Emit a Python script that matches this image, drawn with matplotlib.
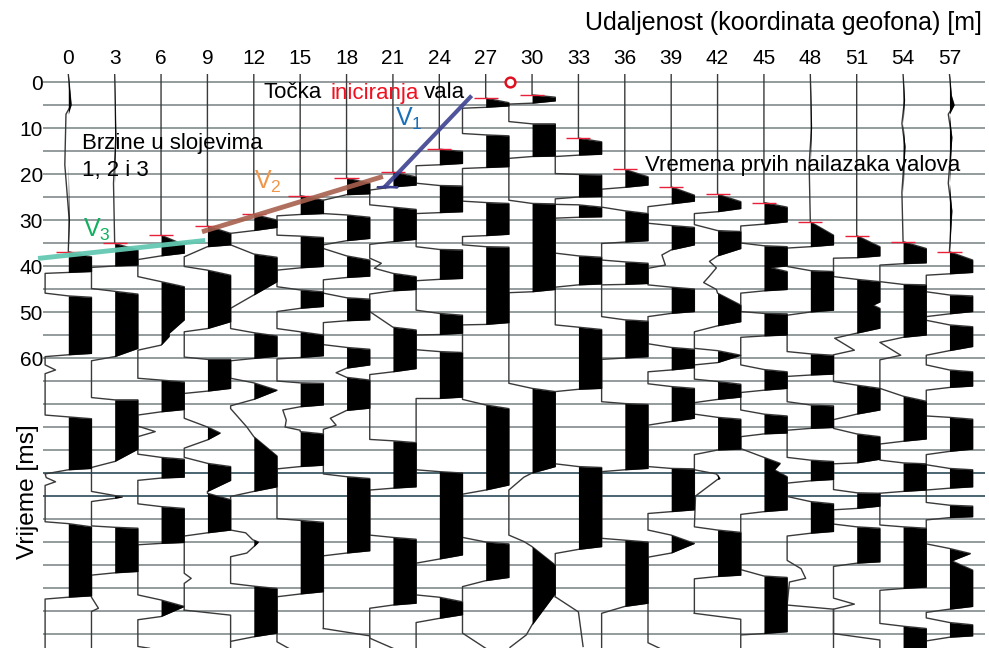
# -*- coding: utf-8 -*-
import numpy as np
import matplotlib
matplotlib.use('Agg')
import matplotlib.pyplot as plt

plt.rcParams['font.family'] = ['Liberation Sans', 'DejaVu Sans']
plt.rcParams['mathtext.fontset'] = 'custom'
plt.rcParams['mathtext.rm'] = 'Liberation Sans'

# geophone coordinates [m] and first arrival picks [ms]
geophones = list(range(0, 60, 3))
picks = [36.9, 35.1, 33.3, 31.3, 28.8, 24.7, 20.9, 19.6, 14.6, 3.5, 2.8, 12.2, 19.0, 22.8, 24.4, 26.2, 30.4, 33.4, 34.7, 36.9]
minor_grid = list(range(0, 125, 5))
dark_grid = [85, 90]
y_labels = [0, 10, 20, 30, 40, 50, 60]

# traces as (time ms, amplitude), amplitude 1 = clipped to the right, -1 = clipped to the left
trace_00 = [(5, .12), (7, -.1), (18, -.15), (30, .04), (36.9, 0), (38, 1), (41.2, 1), (41.4, 0), (41.6, -1), (45.9, -1), (46.5, 0), (46.8, 1), (59, 1), (59.3, 0), (59.7, -1), (61.5, -1), (62.6, -.55), (63.4, -1), (72.4, -1), (72.8, 0), (73.2, 1), (84, 1), (84.3, 0), (85.2, -1), (86, -.95), (86.9, -.55), (87.7, -1), (95.6, -1), (96, 0), (96.7, 1), (111.7, 1), (112, 0), (112.4, -1), (123.1, -1)]
trace_01 = [(12, .05), (22, -.05), (35.1, 0), (36.5, 1), (39.8, 1), (40, 0), (40.3, -1), (44.9, -1), (45.5, 0), (46.1, 1), (57.9, 1), (59.7, 0), (60.6, -1), (68.6, -1), (69.1, 0), (69.1, 1), (79.8, 1), (82.5, 0), (83.8, -1), (89, -1), (89.9, 0), (90.2, .33), (90.5, 0), (91.2, -1), (96.5, -1), (96.8, 0), (97, 1), (106.4, 1), (106.7, 0), (107.2, -1), (112, -1), (114.4, -.7), (115.1, -1), (123.1, -1)]
trace_02 = [(33.3, 0), (35.4, 1), (37.2, 1), (37.8, 0), (38.6, -1), (42.3, -1), (43.4, 0), (44.5, 1), (51.7, 1), (54.6, .35), (55.3, .35), (57.2, 0), (58.3, -1), (64.4, -1), (64.8, 0), (65.2, 1), (71.2, 1), (71.7, 0), (72.4, -1), (74.8, -1), (76, -.25), (77.1, -1), (80.9, -1), (81.6, 0), (82, 1), (85.9, 1), (86.1, 0), (86.6, -1), (91.7, -1), (92.3, 0), (92.7, 1), (100.1, 1), (100.3, 0), (100.6, -1), (111.5, -1), (112.6, 0), (114, 1), (116.2, 0), (116.9, -1), (122.7, -1), (123.1, -.5)]
trace_03 = [(31.3, 0), (32.9, 1), (35.4, 1), (35.8, 0), (38, -1), (40.1, -1), (40.9, 0), (42, 1), (52.1, 1), (53.6, 0), (54.3, -1), (59.8, -1), (60.3, 0), (60.3, 1), (66.6, 1), (67.2, 0), (67.7, -1), (73.1, -1), (75, 0), (76.3, .55), (77.8, 0), (79.6, -1), (81.6, -1), (82.9, 0), (83.6, 1), (86.6, 1), (89, 0), (89.4, 0), (90.8, 1), (97.4, 1), (98, 0), (98.7, -1), (106.8, -1), (107.9, -.7), (109, -1), (114.8, -1)]
trace_04 = [(28.8, 0), (30, 1), (31.6, 1), (32.3, 0), (32.9, -1), (35.4, -1), (37.4, 0), (38.1, 1), (43.4, 1), (46.3, 0), (49.2, -1), (53.6, -1), (54.5, 0), (55.2, 1), (59.6, 1), (60.1, 0), (60.6, -1), (64.4, -1), (65.4, 0), (67, 1), (69, 0), (70.4, -1), (71, -1), (75, -.3), (77.1, 0), (81.3, 1), (88, 1), (89, 0), (90.1, -1), (97.4, -1), (98, -.35), (99.5, -.05), (100, .2), (101, 0), (102.4, -.3), (103.2, -1), (109, -1), (109.6, 0), (110.1, 1), (119.8, 1), (120.6, 0), (121.6, -1), (123.1, -1)]
trace_05 = [(24.7, 0), (25.7, 1), (28.6, 1), (28.8, 0), (29.1, -1), (33.3, -1), (33.5, 0), (33.8, 1), (40.1, 1), (40.4, 0), (40.9, -1), (44.5, -1), (45.2, 0), (45.6, 1), (48.8, 1), (49.2, 0), (49.9, -1), (53.6, -1), (54.3, 0), (55, 1), (59.5, 1), (59.9, 0), (60.2, -1), (65, -1), (65.4, 0), (65.5, 1), (70.2, 1), (70.6, 0), (71.3, -.75), (73.5, -.6), (75, -.65), (75.7, 0), (76, 0), (76.5, 1), (83.3, 1), (83.6, 0), (84.1, -1), (94.9, -1), (95.3, 0), (95.7, 1), (110.8, 1), (111.3, 0), (111.9, -1), (121.7, -1), (123.1, -.5)]
trace_06 = [(20.9, 0), (22, 1), (24.3, 1), (24.5, 0), (25.7, -1), (28.6, -1), (28.9, 0), (29.4, 1), (34, 1), (34.5, 0), (35.4, -1), (36.2, -1), (37.8, 0), (38.7, 1), (42.2, 1), (42.5, 0), (43, -1), (45.9, -1), (46.9, 0), (47.2, 1), (51.7, 1), (51.9, 0), (52.3, -1), (57.1, -1), (57.7, 0), (58.1, 1), (61.5, 1), (62.2, 0), (63.2, -.45), (64.2, 0), (64.8, 1), (70.9, 1), (71.4, 0), (73.1, -.7), (74.6, -.45), (75.5, -1), (85.2, -1), (85.8, 0), (86.2, 1), (101.9, 1), (102.4, 0), (103, -1), (118.8, -1)]
trace_07 = [(19.6, 0), (20.6, 1), (22.4, 1), (22.8, 0), (23.5, -1), (26.7, -1), (27.2, 0), (27.7, 1), (34.2, 1), (34.7, 0), (35.3, -1), (38.3, -1), (39.4, -.5), (40.5, -.8), (41.6, 0), (42.3, 1), (45.1, 1), (45.4, 0), (46.1, -1), (49.9, -1), (53.3, 0), (53.9, 1), (62.3, 1), (63, 0), (63.6, -1), (77.7, -1), (78, 0), (78.4, 1), (88, 1), (88.3, 0), (88.7, -1), (98.5, -1), (99, 0), (99.4, 1), (113.3, 1), (113.7, 0), (114.4, -1), (120.9, -1), (123.1, 0)]
trace_08 = [(14.6, 0), (15.1, 1), (17.7, 1), (18, 0), (18.2, -1), (22, -1), (22.5, 0), (22.6, 1), (28.2, 1), (28.4, 0), (28.6, -1), (35.8, -1), (36.4, 0), (36.5, 1), (42.7, 1), (42.9, 0), (43.2, -1), (49.6, -1), (50.3, 0), (50.7, 1), (54.6, 1), (54.9, 0), (55, -1), (58.2, -1), (58.6, 0), (58.8, 1), (68.5, 1), (68.8, 0), (68.8, -1), (84.3, -1), (84.7, 0), (85, 1), (102.8, 1), (103.7, 0), (104.6, -1), (111.5, -1), (112, 0), (113, 1), (115.8, 1), (116.6, 0), (117.5, -1), (123.1, -1)]
trace_09 = [(3.5, 0), (4.5, 1), (5.2, 1), (5.5, 0), (5.7, -1), (11.2, -1), (11.5, 0), (11.7, 1), (18.4, 1), (18.6, 0), (18.8, -1), (25.9, -1), (26.2, 0), (26.4, 1), (33.1, 1), (33.4, 0), (33.6, -1), (35.4, -1), (35.8, 0), (35.9, 1), (52.3, 1), (52.7, 0), (52.8, -1), (69, -1), (70.2, 0), (71, 1), (87.6, 1), (88.7, 0), (89.6, -1), (99, -1), (100, 0), (100.4, 1), (107.7, 1), (108.4, 0), (109.7, -1), (119.8, -1), (123.1, 0)]
trace_10 = [(2.8, 0), (3.3, 1), (4.1, 1), (4.6, 0), (4.8, -1), (8.6, -1), (9.1, 0), (9.1, 1), (16.1, 1), (16.2, 0), (16.6, -1), (25.7, -1), (26.4, 0), (26.5, 1), (45.1, 1), (45.6, 0), (45.8, -1), (65.5, -1), (66.6, 0), (67.3, 1), (83.6, 1), (85, 0), (85.9, -.35), (88.7, -1), (98.5, -1), (99.9, -.35), (101, 0), (105, 1), (111.2, 1), (118, 0), (120.2, -.25), (122.9, -.95)]
trace_11 = [(12.2, 0), (13, 1), (15.7, 1), (15.9, 0), (16.2, -1), (19.9, -1), (20.1, 0), (20.2, 1), (24.9, 1), (25, 0), (25.4, -1), (26.6, -1), (26.7, 0), (27.2, 1), (29.3, 1), (29.4, 0), (29.6, -1), (37.2, -1), (37.8, 0), (38.1, 1), (43.9, 1), (44.1, 0), (44.6, -1), (52.8, -1), (53.3, 0), (53.8, 1), (66.6, 1), (66.8, 0), (67.3, -1), (83, -1), (83.6, 0), (83.8, 1), (101, 1), (101.6, 0), (102.5, -1), (111.9, -1)]
trace_12 = [(19, 0), (20.6, 1), (22.4, 1), (22.9, 0), (23.3, -1), (27.2, -1), (28, 0), (28.6, 1), (34.5, 1), (34.8, 0), (35.1, -1), (38.7, -1), (39.1, 0), (39.4, 1), (43.8, 1), (44, 0), (44.1, -1), (51, -1), (51.7, 0), (52, 1), (59.7, 1), (60, 0), (60.3, -1), (69.5, -1), (69.9, 0), (70.1, 1), (84, 1), (84.3, 0), (84.7, -1), (99.2, -1), (99.6, 0), (100, 1), (113.3, 1), (114, 0), (115.5, -1), (123.1, -1)]
trace_13 = [(22.8, 0), (24.6, 1), (25.9, 1), (26.5, 0), (27.1, -1), (30.7, -1), (31.2, 0), (31.6, 1), (35.4, 1), (36.5, 0), (37.6, -.4), (39.8, -.25), (40.5, -1), (44.1, -1), (44.6, 0), (45, 1), (49.9, 1), (50.3, 0), (51, -1), (56.9, -1), (57.7, 0), (58.1, 1), (62.1, 1), (62.6, 0), (63, -1), (65.6, -1), (66.2, 0), (66.6, 1), (73.1, 1), (73.8, 0), (74.6, -1), (83.6, -1), (84, 0), (84.1, 1), (93, 1), (93.4, 0), (93.8, -1), (97.4, -1), (98.5, 0), (100.3, 1), (102.4, 0), (103.3, -1), (121.9, -1), (123.1, -.5)]
trace_14 = [(24.4, 0), (26, 1), (27.5, 1), (28.2, 0), (28.6, -1), (31, -1), (32.3, 0), (32.5, 1), (36.2, 1), (37.8, 0), (39, -.35), (40.4, -.05), (42.2, -.35), (43.6, -.6), (45.1, -.05), (45.9, 0), (48.5, 1), (52.1, 1), (53, 0), (54.3, -1), (57.9, -1), (58.4, 0), (59.4, 1), (61, 0), (61.5, -1), (64.6, -1), (65.1, 0), (65.7, 1), (68.5, 1), (69, 0), (69.7, -1), (72.2, -1), (72.9, 0), (73.3, 1), (79.8, 1), (80, 0), (81, -1), (84.3, -1), (85.2, -.05), (86.2, .1), (86.4, 0), (90, -.95), (96.7, -1), (97.4, 0), (97.9, 1), (107.2, 1), (107.5, 0), (108, -1), (115.5, -1)]
trace_15 = [(26.2, 0), (27.2, 1), (30.4, 1), (30.9, 0), (31.3, -1), (35, -1), (35.6, 0), (35.8, 1), (40, 1), (40.3, .25), (41.2, 1), (45.1, 1), (45.4, 0), (45.9, -1), (49.9, -1), (50.3, 0), (50.4, 1), (55, 1), (55.2, 0), (55.5, -1), (61.5, -1), (62.5, 0), (63, 1), (66.6, 1), (67, 0), (67.5, -1), (71.3, -1), (72.2, 0), (72.6, 1), (76.3, 1), (76.5, 0), (77.1, -1), (79.7, -1), (81.6, 0), (82.9, .7), (84.3, .45), (85.8, 1), (93, 1), (93.4, 0), (94, -1), (106, -1), (107.4, 0), (107.7, 1), (119.5, 1), (119.9, 0), (120.2, -1), (123.1, -1)]
trace_16 = [(10, .05), (18, -.05), (30.4, 0), (33.3, 1), (35.4, 1), (35.8, 0), (36.1, -1), (40.1, -1), (41, 0), (41.2, 1), (49.6, 1), (50, 0), (50.7, -1), (58.6, -1), (59.1, 0), (59.4, 1), (63.5, 1), (63.7, 0), (64, -1), (69.5, -1), (70.2, 0), (70.4, 1), (75.1, 1), (75.3, 0), (75.7, -1), (81.6, -1), (82.2, 0), (82.5, 1), (86.4, 1), (86.7, 0), (87.2, -1), (90.1, -1), (91.2, 0), (91.7, 1), (97.7, 1), (98.1, 0), (98.7, -1), (104, -1), (105.8, -.4), (107.9, -.2), (108.7, -.9), (113.7, -1)]
trace_17 = [(33.4, 0), (35.8, 1), (37.8, 1), (38.2, 0), (38.3, -1), (42.3, -1), (42.9, 0), (43.4, 1), (47.8, 1), (48.5, .7), (49.2, 1), (53.5, 1), (54.6, 0), (55.7, -.95), (58.3, -.1), (59.3, -1), (65.1, -1), (65.9, 0), (66.6, 1), (71.3, 1), (72.2, 0), (73.4, -1), (75.3, -1), (76.5, 0), (77.1, 1), (82, 1), (82.8, 0), (83, -1), (88.6, -1), (89.3, 0), (89.4, 1), (92.2, 1), (92.7, 0), (93, -1), (96.1, -1), (96.7, 0), (97, 1), (104.3, 1), (104.6, 0), (105.3, -1), (112.2, -1), (113.5, -.1), (114.6, -1), (119.9, -1)]
trace_18 = [(4, .06), (9, -.05), (14, .08), (24, -.05), (34.7, 0), (36.2, 1), (39.3, 1), (39.5, 0), (39.8, -1), (43.4, -1), (44, 0), (44.1, 1), (55, 1), (55.5, 0), (56.6, -1), (59.4, -.1), (60.4, -1), (66.6, -1), (68.3, 0), (69.4, 1), (77.6, 1), (78.1, 0), (78.7, -1), (82.2, -1), (82.8, 0), (83, 1), (88.7, 1), (89, 0), (89.4, -1), (96.3, -1), (96.7, 0), (97, 1), (109.8, 1), (110.1, 0), (110.5, -1), (117.7, -1), (118.3, 0), (118.8, 1), (123.1, 1)]
trace_19 = [(3, .08), (5, .2), (7, -.05), (12, .1), (22, -.05), (28, .1), (36.9, 0), (38.7, 1), (41.4, 1), (41.7, 0), (42, -1), (45.6, -1), (46.3, 0), (46.5, 1), (49.9, 1), (50.4, 0), (51, -1), (51.8, -1), (52.8, 0), (53.2, 1), (57.5, 1), (58.4, 0), (59.4, -1), (61.5, -1), (62.6, 0), (63, 1), (66.1, 1), (66.4, 0), (67, -1), (72.6, -1), (72.9, 0), (73.3, 1), (79.8, 1), (80.3, 0), (81, -1), (83.2, -1), (84, 0), (84.3, 1), (88, 1), (88.3, 0), (88.7, -1), (91.4, -1), (92, 0), (92.2, 1), (94.5, 1), (94.7, 0), (95.2, -1), (100.4, -1), (101.4, 0), (102.5, .9), (104.1, .1), (106.1, 1), (114, 1), (114.6, 0), (115.3, -1), (116.5, -1), (117.5, 0), (118, 1), (120.4, 1), (120.7, 0), (121.5, -1), (123.1, -1)]
traces = [trace_00, trace_01, trace_02, trace_03, trace_04, trace_05, trace_06, trace_07, trace_08, trace_09,
          trace_10, trace_11, trace_12, trace_13, trace_14, trace_15, trace_16, trace_17, trace_18, trace_19]

# pieces of the line that swing across without any black fill
unfilled = {9: [(114.8, -1), (115.9, 1), (121.5, 1)],
            18: [(118.8, -1), (120.4, 1), (123.1, 1)],
            33: [(111.9, -1), (115.2, 0), (122.7, .2)],
            42: [(115.5, -1), (116.8, 1), (120, 1)],
            48: [(113.7, -1), (114.6, 1), (123.1, 1)],
            51: [(119.9, -1), (121.3, 1), (123.1, 1)]}

CLIP = 1.5  # m
LINE = '#3a3a3a'

fig = plt.figure(figsize=(9.89, 6.48), dpi=100)
ax = fig.add_axes([43/989, 0, 942/989, 574/648])
ax.set_xlim(-1.636, 59.3)
ax.set_ylim(123.04, -1.74)
for s in ax.spines.values():
    s.set_visible(False)

# time grid
for g in minor_grid:
    if g in dark_grid:
        ax.axhline(g, color='#4a6570', lw=1.4, zorder=1)
    else:
        ax.axhline(g, color='#8b9394', lw=1.3, zorder=1)

# seismic traces
for x0, tr in zip(geophones, traces):
    arr = np.array(tr, dtype=float)
    t = np.r_[-1.74, arr[:, 0]]
    a = np.r_[0, arr[:, 1]]
    ax.plot(x0 + CLIP*a, t, color=LINE, lw=1.0, zorder=2)
    ax.fill_betweenx(t, x0, x0 + CLIP*np.maximum(a, 0), color='black', lw=0, zorder=3)
for x0, tr in unfilled.items():
    arr = np.array(tr, dtype=float)
    ax.plot(x0 + CLIP*arr[:, 1], arr[:, 0], color=LINE, lw=1.0, zorder=2)

# first arrival picks
ax.hlines(picks, np.array(geophones) - 0.78, np.array(geophones) + 0.78, color='#e8203a', lw=1.0, zorder=5)
ax.plot([28.55], [0], 'o', mfc='white', mec='#e01020', mew=1.8, ms=7, zorder=6, clip_on=False)

# velocity lines
ax.plot([26.0, 20.5], [3.3, 22.7], color='#3d4290', lw=3, alpha=.9, zorder=6)
ax.plot([20.5, 20.0, 21.3, 20.5], [22.7, 22.9, 22.9, 22.7], color='#3d4290', lw=1.5, zorder=6)
ax.plot([8.8, 20.2], [32.4, 20.7], color='#a8604e', lw=3.5, alpha=.9, zorder=6)
ax.plot([-1.8, 8.7], [38.3, 34.5], color='#63c9b2', lw=3.5, alpha=.95, zorder=6, clip_on=False)

# axes labels
ax.xaxis.tick_top()
ax.set_xticks(geophones)
ax.set_yticks(y_labels)
ax.tick_params(axis='both', length=0, labelsize=15)
ax.tick_params(axis='x', pad=4)
ax.tick_params(axis='y', pad=0)

fig.text(982/989, 1 - 23/648, 'Udaljenost (koordinata geofona) [m]', ha='right', va='center', fontsize=18)
fig.text(28/989, 1 - 492/648, 'Vrijeme [ms]', rotation=90, ha='center', va='center', fontsize=17.6)

FS = 16
fig.text(263/989, 1 - 93/648, 'Točka', fontsize=FS, va='center', zorder=10)
fig.text(330/989, 1 - 93/648, 'iniciranja', fontsize=FS, va='center', color='#f01020', zorder=10)
fig.text(424/989, 1 - 93/648, 'vala', fontsize=FS, va='center', zorder=10)
fig.text(82/989, 1 - 143/648, 'Brzine u slojevima', fontsize=FS, va='center', zorder=10)
fig.text(82/989, 1 - 171/648, '1, 2 i 3', fontsize=FS, va='center', zorder=10)
fig.text(645/989, 1 - 165/648, 'Vremena prvih nailazaka valova', fontsize=FS, va='center', zorder=10)
fig.text(395/989, 1 - 119/648, r'V$_{\mathrm{1}}$', fontsize=18, va='center', color='#1a70b8', zorder=10)
fig.text(254/989, 1 - 182/648, r'V$_{\mathrm{2}}$', fontsize=18, va='center', color='#f0964a', zorder=10)
fig.text(83/989, 1 - 230/648, r'V$_{\mathrm{3}}$', fontsize=18, va='center', color='#10b060', zorder=10)

fig.savefig('out.png', dpi=100)
